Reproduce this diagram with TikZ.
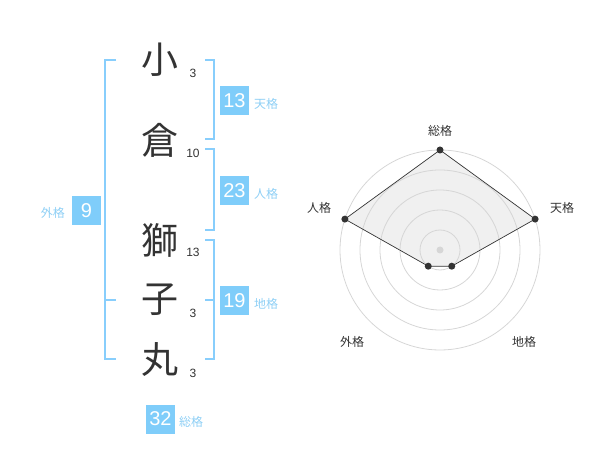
\documentclass[tikz,border=0pt]{standalone}
\usepackage{fontspec}
\newfontfamily\jpfont{Noto Sans CJK JP}
\newfontfamily\numfont{Liberation Sans}
\definecolor{ink}{HTML}{333333}
\definecolor{boxblue}{HTML}{7FCDFA}
\definecolor{braceblue}{HTML}{88CEFC}
\definecolor{tagblue}{HTML}{8ECFF5}
\definecolor{ringgray}{HTML}{D6D6D6}
\definecolor{areagray}{HTML}{F0F0F0}
\begin{document}
\begin{tikzpicture}[x=1pt,y=-1pt,line join=round,line cap=round,
		kanji/.style={font=\jpfont\fontsize{37}{37}\selectfont,text=ink,inner sep=0pt},
		kaku/.style={font=\numfont\fontsize{12}{12}\selectfont,text=ink,inner sep=0pt},
		score/.style={fill=boxblue,text=white,minimum size=29pt,inner sep=0pt,font=\numfont\fontsize{20}{20}\selectfont},
		tag/.style={font=\jpfont\fontsize{12}{12}\selectfont,text=tagblue,inner sep=0pt},
		axislabel/.style={font=\jpfont\fontsize{12}{12}\selectfont,text=ink,inner sep=0pt},
		brace/.style={draw=braceblue,line width=2pt,line cap=butt,line join=miter},
		dot/.style={circle,fill=ink,inner sep=0pt,minimum size=7pt}]
	\useasboundingbox (0,0) rectangle (600,470);
	% name
	\node[kanji] (c1) at (160,60) {小};
	\node[kanji] (c2) at (160,140) {倉};
	\node[kanji] (c3) at (160,240) {獅};
	\node[kanji] (c4) at (160,300) {子};
	\node[kanji] (c5) at (160,360) {丸};
	\node[kaku] (k1) at (193,73) {3};
	\node[kaku] (k2) at (193,153) {10};
	\node[kaku] (k3) at (193,252) {13};
	\node[kaku] (k4) at (193,313) {3};
	\node[kaku] (k5) at (193,373) {3};
	% brackets
	\draw[brace] (116,60)--(105,60)--(105,359)--(116,359);
	\draw[brace] (105,300)--(116,300);
	\draw[brace] (205,60)--(214,60)--(214,139)--(205,139);
	\draw[brace] (205,149)--(214,149)--(214,230)--(205,230);
	\draw[brace] (205,240)--(214,240)--(214,359)--(205,359);
	\draw[brace] (205,300)--(214,300);
	% scores
	\node[score] (ten) at (234.5,100.5) {13};
	\node[tag,anchor=west] at (254,104) {天格};
	\node[score] (jin) at (234.5,190.5) {23};
	\node[tag,anchor=west] at (254,194) {人格};
	\node[score] (chi) at (234.5,300.5) {19};
	\node[tag,anchor=west] at (254,304) {地格};
	\node[score] (gai) at (86.5,210.5) {9};
	\node[tag,anchor=east] at (65,213) {外格};
	\node[score] (sou) at (160.5,419) {32};
	\node[tag,anchor=west] at (179,422) {総格};
	% radar
	\begin{scope}[shift={(440,250)}]
		\coordinate (s) at (-90:100);
		\coordinate (t) at (-18:100);
		\coordinate (c) at (54:20);
		\coordinate (g) at (126:20);
		\coordinate (j) at (198:100);
		\fill[areagray] (s)--(t)--(c)--(g)--(j)--cycle;
		\foreach \r in {20,40,60,80,100}
			\draw[ringgray,line width=0.8pt] (0,0) circle (\r);
		\fill[ringgray] (0,0) circle (3.5);
		\draw[ink,line width=0.7pt] (s)--(t)--(c)--(g)--(j)--cycle;
		\foreach \p in {s,t,c,g,j}
			\node[dot] at (\p) {};
		\node[axislabel] (ls) at (0,-119) {総格};
		\node[axislabel] (lt) at (122,-42) {天格};
		\node[axislabel] (lc) at (84,92) {地格};
		\node[axislabel] (lg) at (-88,92) {外格};
		\node[axislabel] (lj) at (-121,-42) {人格};
	\end{scope}
\end{tikzpicture}
\end{document}
